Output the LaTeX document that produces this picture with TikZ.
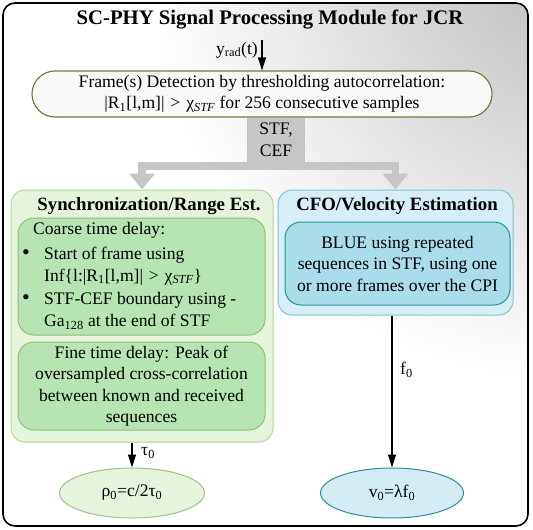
\documentclass[tikz,border=0pt]{standalone}
\usepackage{fontspec}
\setmainfont{Liberation Serif}
\usetikzlibrary{arrows.meta,shapes.geometric}
\definecolor{syncfill}{HTML}{E6F4DD}
\definecolor{syncdraw}{HTML}{B2D69C}
\definecolor{innerg}{HTML}{B6E5B3}
\definecolor{innergd}{HTML}{8FBF70}
\definecolor{cfofill}{HTML}{D6EEF5}
\definecolor{cfodraw}{HTML}{80C4D4}
\definecolor{innerb}{HTML}{A8DDE9}
\definecolor{innerbd}{HTML}{1F96A8}
\definecolor{vfill}{HTML}{D4ECF4}
\definecolor{vdraw}{HTML}{2E8DA0}
\definecolor{olive}{HTML}{6B7B3A}
\definecolor{gbar}{HTML}{C6C6C6}
\tikzset{
  every node/.style={font=\fontsize{17.6}{21.5}\selectfont, inner sep=0pt},
  outerbox/.style={draw=black, line width=1.6pt, rounded corners=12pt, rectangle},
  detbox/.style={draw=olive, line width=1.1pt, rounded corners=23pt, rectangle, fill=white!96!olive},
  greybox/.style={fill=gbar, rectangle, align=center},
  syncbox/.style={draw=syncdraw, line width=1pt, rounded corners=14pt, rectangle, fill=syncfill},
  ginner/.style={draw=innergd, line width=1pt, rounded corners=16pt, rectangle, fill=innerg},
  cfobox/.style={draw=cfodraw, line width=1pt, rounded corners=14pt, rectangle, fill=cfofill},
  binner/.style={draw=innerbd, line width=1pt, rounded corners=16pt, rectangle, fill=innerb, align=center},
  gellipse/.style={ellipse, draw=syncdraw!90!black, line width=1pt, fill=syncfill},
  bellipse/.style={ellipse, draw=vdraw, line width=1pt, fill=vfill},
  garrow/.style={draw=gbar, line width=7.5pt, -{Triangle[width=25pt,length=16pt]}},
  barrow/.style={draw=black, line width=1.3pt, -{Triangle[width=8pt,length=13pt]}},
  boldtitle/.style={font=\fontsize{18.8}{22}\selectfont\bfseries},
}
\begin{document}
\begin{tikzpicture}[x=1pt,y=-1pt]
\useasboundingbox (0,0) rectangle (533,530);
\begin{scope}
  \clip[rounded corners=12pt] (3,3) rectangle (528,526);
  \fill[white] (0,0) rectangle (533,530);
  \shade[inner color=black!26, outer color=white] (570,-40) circle (420pt);
\end{scope}
\node[outerbox, minimum width=525pt, minimum height=523pt] (frame) at (265.5,264.5) {};
\node[font=\fontsize{20.7}{24}\selectfont\bfseries] (title) at (270,19) {SC-PHY Signal Processing Module for JCR};
\coordinate (ytop) at (262,40);
\node[anchor=east] (ylab) at (258,50) {y\textsubscript{rad}(t)};
\node[detbox, minimum width=460pt, minimum height=46pt, align=center] (detect) at (262,94)
  {Frame(s) Detection by thresholding autocorrelation:\\
   |R\textsubscript{1}[l,m]|\,\,>\,\,χ\textsubscript{\textit{STF}} for 256 consecutive samples};
\draw[barrow] (ytop) -- (detect.north);
\node[greybox, minimum width=58pt, minimum height=44pt] (stf) at (276,140) {STF,\\CEF};

\node[syncbox, minimum width=262pt, minimum height=252pt] (sync) at (142,316) {};
\node[boldtitle] (synct) at (149,206) {Synchronization/Range Est.};
\node[ginner, minimum width=247pt, minimum height=117pt] (coarse) at (141.5,276.5) {};
\node[anchor=west] (c0) at (33,230) {Coarse time delay:};
\node[font=\fontsize{22}{22}\selectfont] (b1) at (26,255) {•};
\node[anchor=west] (c1) at (44,255) {Start of frame using};
\node[anchor=west] (c2) at (44,277) {Inf\{l:|R\textsubscript{1}[l,m]|\,\,>\,\,χ\textsubscript{\textit{STF}}\}};
\node[font=\fontsize{22}{22}\selectfont] (b2) at (26,300) {•};
\node[anchor=west] (c3) at (44,300) {STF-CEF boundary using -};
\node[anchor=west] (c4) at (44,322) {Ga\textsubscript{128} at the end of STF};
\node[ginner, minimum width=247pt, minimum height=88pt, align=center] (fine) at (141.5,386)
  {Fine time delay: Peak of\\oversampled cross-correlation\\between known and received\\sequences};

\node[cfobox, minimum width=235pt, minimum height=125pt] (cfo) at (395.5,252.5) {};
\node[boldtitle] (cfot) at (397,206) {CFO/Velocity Estimation};
\node[binner, minimum width=225pt, minimum height=83pt] (blue) at (397.5,263.5)
  {BLUE using repeated\\sequences in STF, using one\\or more frames over the CPI};

\draw[garrow] ([yshift=-4pt]stf.south) -| (sync.north);
\draw[garrow] ([yshift=-4pt]stf.south) -| (cfo.north);

\node[gellipse, minimum width=145pt, minimum height=50pt] (rho) at (132,493) {ρ\textsubscript{0}=c/2τ\textsubscript{0}};
\node[bellipse, minimum width=143pt, minimum height=50pt] (v0) at (392,493) {v\textsubscript{0}=λf\textsubscript{0}};
\draw[barrow] (sync.south -| rho.north) -- (rho.north);
\draw[barrow] (cfo.south -| v0.north) -- (v0.north);
\node[anchor=west] (tau) at (141,453) {τ\textsubscript{0}};
\node[anchor=west] (f0) at (400,370) {f\textsubscript{0}};
\end{tikzpicture}
\end{document}
